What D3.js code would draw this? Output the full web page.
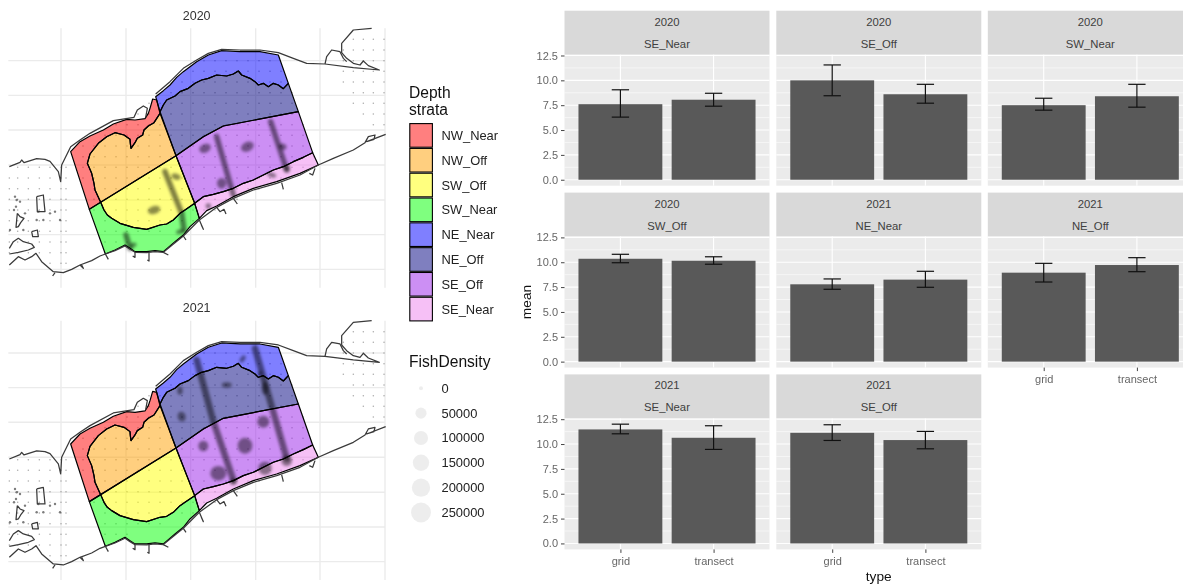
<!DOCTYPE html>
<html><head><meta charset="utf-8">
<script src="https://cdnjs.cloudflare.com/ajax/libs/d3/7.8.5/d3.min.js"></script>
<style>html,body{margin:0;padding:0;background:#fff;overflow:hidden}svg{display:block;filter:blur(0.4px)}text{font-family:"Liberation Sans",Arial,sans-serif}</style>
</head><body><svg id="c" width="1183" height="585"></svg>
<script>
// ---------- bar chart data ----------
const facetYears  = ["2020","2020","2020","2020","2021","2021","2021","2021"];
const facetStrata = ["SE_Near","SE_Off","SW_Near","SW_Off","NE_Near","NE_Off","SE_Near","SE_Off"];
const typeLevels  = ["grid","transect"];
const gridMean     = [7.6,10.0,7.5,10.35,7.78,8.95,11.47,11.13];
const gridLow      = [6.3,8.45,7.0,9.95,7.28,8.01,11.03,10.36];
const gridHigh     = [9.05,11.55,8.2,10.8,8.32,9.89,12.0,11.94];
const transectMean = [8.05,8.6,8.4,10.15,8.25,9.72,10.63,10.4];
const transectLow  = [7.4,7.7,7.3,9.8,7.48,9.05,9.46,9.52];
const transectHigh = [8.7,9.6,9.6,10.55,9.09,10.46,11.84,11.27];
const yTicks = [0,2.5,5,7.5,10,12.5];
const yMinor = [1.25,3.75,6.25,8.75,11.25];

// ---------- legend data ----------
const strataNames  = ["NW_Near","NW_Off","SW_Off","SW_Near","NE_Near","NE_Off","SE_Off","SE_Near"];
const strataColors = ["#ff0000","#ffa000","#ffff00","#00ff00","#0000ff","#000080","#9a20ea","#ee82ee"];
const densityBreaks = [0,50000,100000,150000,200000,250000];

// ---------- map data (map units) ----------
const mapGridX = [183,378,572,767,960,1155];
const mapGridY = [182,286,390,495,600,704,808];
const stationCols = [28,53,85,118,150,183,198,216,249,282,315,348,381,414,447,480,513,546,579,612,645,678,711,744,777,810,843,876,909,942,1000,1030,1060,1090,1120,1152];
const stationRows = [88,118,150,182,214,246,278,310,342,374,406,438,470,502,534,566,598,630,662,694,726,758,790];
const westZone = [[28,510],[90,488],[150,490],[205,480],[205,815],[170,815],[120,780],[28,790]];
const eastZone = [[1000,205],[1060,92],[1155,88],[1155,395],[1105,395],[1050,300]];
const boxZone  = [[212,455],[467,290],[625,165],[835,165],[955,495],[598,655],[316,762]];

const nwInner = [[480,340],[462,368],[445,378],[432,390],[428,405],[412,415],[405,428],[393,445],[391,430],[390,418],[372,405],[345,398],[320,410],[295,430],[270,462],[262,490],[275,520],[282,550],[285,570],[302,607]];
const swCurve = [[302,607],[312,630],[322,645],[335,655],[360,670],[400,682],[440,688],[480,675],[500,672],[520,660],[540,640],[555,630],[584,610]];
const neCurve = [[480,335],[490,315],[500,300],[525,288],[540,275],[565,265],[585,250],[605,240],[625,235],[650,225],[680,228],[700,222],[715,213],[725,225],[750,235],[765,245],[775,255],[790,250],[805,260],[820,250],[835,255],[850,266],[865,250]];
const seCurve = [[584,610],[610,590],[640,583],[670,575],[700,565],[730,550],[760,540],[790,525],[820,510],[850,500],[880,485],[910,472],[938,458]];
const offLine = [[528,467],[610,410],[670,378],[895,335]];
const nwNearOuter = [[212,455],[240,425],[270,408],[310,390],[340,372],[380,358],[405,360],[435,356],[445,340],[450,325],[458,297],[470,300],[480,340]];
const swNearOuter = [[598,655],[570,680],[550,705],[525,725],[505,742],[490,755],[465,752],[440,755],[405,755],[390,745],[375,735],[345,750],[316,762],[268,628]];
const neNearOuter = [[467,290],[490,272],[510,255],[530,232],[550,215],[590,185],[625,165],[665,152],[720,155],[780,155],[835,165]];
const seNearOuter = [[938,458],[955,495],[900,520],[830,545],[760,565],[700,590],[650,618],[620,632],[598,655]];
const strataShapes = [
  nwNearOuter.concat(nwInner.slice(1),[[268,628]]),
  nwInner.concat([[528,467]]),
  swCurve.concat([[528,467]]),
  [[268,628]].concat(swCurve,swNearOuter),
  neNearOuter.concat([[865,250]],neCurve.slice().reverse()),
  neCurve.concat([[895,335]],offLine.slice().reverse()),
  offLine.concat([[938,458]],seCurve.slice().reverse()),
  seCurve.concat(seNearOuter)
];
const coastLines = [
  [[28,500],[60,487],[65,480],[72,488],[110,476],[135,478],[150,484],[175,515],[182,545],[185,495],[212,440],[240,420],[270,400],[340,362],[402,352],[412,330],[430,318],[442,325],[437,352]],
  [[467,282],[510,245],[550,205],[590,180],[625,160],[665,148],[720,150],[780,150],[835,158],[880,175],[920,190],[975,192],[1060,203],[1138,210],[1105,197],[1090,183],[1080,195],[1060,190],[1040,175],[1025,158],[1025,130],[1060,90],[1115,85]],
  [[975,192],[980,170],[995,150],[1020,155],[1030,175],[1040,185]],
  [[28,795],[55,770],[75,780],[95,770],[108,760],[125,785],[160,815],[190,818],[215,808],[240,795],[275,782],[300,768],[316,762],[345,752],[375,738],[390,748],[405,757],[440,758],[465,755],[490,757],[525,728],[550,708],[598,660],[650,622],[700,595],[760,570],[830,550],[900,525],[955,495],[1000,475],[1060,450],[1095,428],[1105,410],[1125,405],[1122,418],[1100,425],[1157,403]],
  [[28,745],[40,725],[55,715],[70,725],[95,732],[103,742],[85,750],[55,757],[28,762]],
  [[110,590],[130,585],[135,635],[112,635],[110,590]],
  [[52,640],[60,650],[72,655],[62,668],[55,680],[48,682],[50,660],[52,640]],
  [[95,695],[112,690],[115,710],[98,710],[95,695]],
  [[240,795],[250,805],[245,795]],[[165,818],[158,828]],[[405,757],[405,772],[398,768]],[[447,758],[447,783],[442,780]],[[490,757],[505,765]],[[550,708],[558,720]],[[598,660],[610,688],[604,675]],[[650,622],[660,635],[672,628],[678,642]],[[700,595],[712,612]],[[845,548],[850,568]],[[945,505],[938,525],[928,520]],[[316,762],[325,778]]
];
const specks = [[45,590],[60,605],[42,630],[48,620],[110,660],[130,660],[150,640],[180,660],[30,690],[70,690],[50,600],[115,635],[165,635],[75,640]];
const tracks2020 = [
  [[495,515],[545,640],[552,690]],
  [[650,410],[700,585]],
  [[812,365],[860,510]],
  [[378,705],[390,745]]
];
const blobs2020 = [[615,445,18,13,-25],[742,440,20,14,-25],[665,550,14,16,0],[462,630,19,12,-15],[528,530,14,9,20],[400,735,10,7,-20],[540,695,12,7,-15],[815,525,14,7,15],[625,618,8,8,0],[860,505,10,10,0],[848,440,12,9,20]];
const tracks2021 = [
  [[590,203],[640,388],[700,563]],
  [[765,168],[860,498]]
];
const blobs2021 = [[540,295,8,12,0],[545,373,12,15,-15],[680,278,15,8,0],[728,200,7,12,35],[795,288,10,20,0],[790,388,18,18,0],[735,460,22,24,0],[610,461,15,16,0],[655,543,24,22,0],[795,528,20,20,0],[860,505,16,16,0],[700,568,10,10,0],[780,243,7,7,0]];

// ---------- drawing ----------
const svg = d3.select("#c");
const defs = svg.append("defs");
defs.append("filter").attr("id","soft").attr("x","-30%").attr("y","-30%").attr("width","160%").attr("height","160%")
  .append("feGaussianBlur").attr("stdDeviation",1.5);

const mapX = d3.scaleLinear().domain([0,1200]).range([0,400]);
const mapYs = [d3.scaleLinear().domain([0,885]).range([0,295]),
               d3.scaleLinear().domain([0,885]).range([292.3,587.3])];
const mapYears = ["2020","2021"];
const titleY = [16,308];
const mapTracks = [tracks2020,tracks2021];
const mapBlobs = [blobs2020,blobs2021];
const trackW = [5.5,6.5];

mapYears.forEach((yr,i)=>{
  const my = mapYs[i];
  const g = svg.append("g");
  const line = d3.line().x(d=>mapX(d[0])).y(d=>my(d[1]));
  g.selectAll(".gx").data(mapGridX).join("line")
    .attr("x1",d=>mapX(d)).attr("x2",d=>mapX(d)).attr("y1",my(85)).attr("y2",my(863))
    .attr("stroke","#ebebeb").attr("stroke-width",1.4);
  g.selectAll(".gy").data(mapGridY).join("line")
    .attr("y1",d=>my(d)).attr("y2",d=>my(d)).attr("x1",mapX(25)).attr("x2",mapX(1155))
    .attr("stroke","#ebebeb").attr("stroke-width",1.4);
  // survey stations
  const stations = [];
  stationCols.forEach(cx=>stationRows.forEach(cy=>{
    if([westZone,eastZone,boxZone].some(z=>d3.polygonContains(z,[cx,cy]))) stations.push([cx,cy]);
  }));
  g.selectAll(".st").data(stations).join("circle")
    .attr("cx",d=>mapX(d[0])).attr("cy",d=>my(d[1])).attr("r",0.75).attr("fill","#555").attr("fill-opacity",0.5);
  g.selectAll(".sp").data(specks).join("circle")
    .attr("cx",d=>mapX(d[0])).attr("cy",d=>my(d[1])).attr("r",1.2).attr("fill","#444").attr("fill-opacity",0.7);
  // strata fills
  g.selectAll(".s").data(strataShapes).join("path")
    .attr("d",d=>line(d)+"Z").attr("fill",(d,k)=>strataColors[k]).attr("fill-opacity",0.5).attr("stroke","none");
  // density
  const dens = g.append("g").attr("filter","url(#soft)");
  dens.selectAll("path").data(mapTracks[i]).join("path")
    .attr("d",line).attr("fill","none").attr("stroke","#000").attr("stroke-opacity",0.5)
    .attr("stroke-width",trackW[i]).attr("stroke-linecap","round");
  dens.selectAll("ellipse").data(mapBlobs[i]).join("ellipse")
    .attr("transform",d=>`translate(${mapX(d[0])},${my(d[1])}) rotate(${d[4]})`)
    .attr("rx",d=>mapX(d[2])).attr("ry",d=>mapX(d[3])).attr("fill","#000").attr("fill-opacity",0.45);
  // strata outlines
  g.selectAll(".so").data(strataShapes).join("path")
    .attr("d",d=>line(d)+"Z").attr("fill","none")
    .attr("stroke","#000").attr("stroke-width",1.2).attr("stroke-linejoin","round");
  // coast
  g.selectAll(".c").data(coastLines).join("path")
    .attr("d",line).attr("fill","none").attr("stroke","#3a3a3a").attr("stroke-width",1.25)
    .attr("stroke-linejoin","round");
  g.append("text").attr("x",mapX(590)).attr("y",titleY[i]).attr("dy","0.35em").attr("text-anchor","middle")
    .attr("font-size",12.5).attr("fill","#333").text(yr);
});

// legend
const lg = svg.append("g");
lg.append("text").attr("x",409).attr("y",97.5).attr("font-size",15.6).attr("fill","#111").text("Depth");
lg.append("text").attr("x",409).attr("y",114.5).attr("font-size",15.6).attr("fill","#111").text("strata");
const keyY = d3.scaleBand().domain(strataNames).range([123,321.5]);
lg.selectAll(".k").data(strataNames).join("rect")
  .attr("x",409.8).attr("y",d=>keyY(d)+0.6).attr("width",22.6).attr("height",keyY.bandwidth()-1.2)
  .attr("fill",(d,i)=>strataColors[i]).attr("fill-opacity",0.5).attr("stroke","#000").attr("stroke-width",1.1);
lg.selectAll(".kt").data(strataNames).join("text")
  .attr("x",441.5).attr("y",d=>keyY(d)+keyY.bandwidth()/2).attr("dy","0.35em")
  .attr("font-size",12.9).attr("fill","#222").text(d=>d);
lg.append("text").attr("x",409).attr("y",367).attr("font-size",15.6).attr("fill","#111").text("FishDensity");
const rScale = d3.scaleSqrt().domain([0,250000]).range([2,10]);
const densY = d3.scaleLinear().domain([0,250000]).range([388.3,512.5]);
lg.selectAll(".d").data(densityBreaks).join("circle")
  .attr("cx",421).attr("cy",d=>densY(d)).attr("r",d=>rScale(d)).attr("fill","#000").attr("fill-opacity",0.07);
lg.selectAll(".dt").data(densityBreaks).join("text")
  .attr("x",441.5).attr("y",d=>densY(d)).attr("dy","0.35em").attr("font-size",12.9).attr("fill","#222").text(d=>d);

// bar facets
const colX = [564.5,776.3,987.8];
const colW = 205;
const stripTop = [10.7,192.6,374.4];
const stripH = 44;
const panelH = 131;
const axisXPanels = [5,6,7];
facetYears.forEach((yr,i)=>{
  const col = i%3, row = Math.floor(i/3);
  const w = colW;
  const g = svg.append("g").attr("transform",`translate(${colX[col]},${stripTop[row]})`);
  g.append("rect").attr("width",w).attr("height",stripH).attr("fill","#d9d9d9");
  g.append("text").attr("x",w/2).attr("y",11).attr("dy","0.35em").attr("text-anchor","middle").attr("font-size",11.3).attr("fill","#404040").text(yr);
  g.append("text").attr("x",w/2).attr("y",33).attr("dy","0.35em").attr("text-anchor","middle").attr("font-size",11.3).attr("fill","#404040").text(facetStrata[i]);
  const p = g.append("g").attr("transform",`translate(0,${stripH})`);
  p.append("rect").attr("width",w).attr("height",panelH).attr("fill","#ebebeb");
  const x = d3.scalePoint().domain(typeLevels).range([0,w]).padding(0.6);
  const bw = x.step()*0.9;
  const y = d3.scaleLinear().domain([-0.6,12.58]).range([panelH,0]);
  p.selectAll(".mi").data(yMinor).join("line").attr("x1",0).attr("x2",w).attr("y1",d=>y(d)).attr("y2",d=>y(d)).attr("stroke","#fff").attr("stroke-width",0.55);
  p.selectAll(".ma").data(yTicks).join("line").attr("x1",0).attr("x2",w).attr("y1",d=>y(d)).attr("y2",d=>y(d)).attr("stroke","#fff").attr("stroke-width",1.1);
  p.selectAll(".mv").data(typeLevels).join("line").attr("x1",d=>x(d)).attr("x2",d=>x(d)).attr("y1",0).attr("y2",panelH).attr("stroke","#fff").attr("stroke-width",1.1);
  const rows = [{t:"grid",m:gridMean[i],lo:gridLow[i],hi:gridHigh[i]},{t:"transect",m:transectMean[i],lo:transectLow[i],hi:transectHigh[i]}];
  p.selectAll(".b").data(rows).join("rect").attr("x",d=>x(d.t)-bw/2).attr("width",bw).attr("y",d=>y(d.m)).attr("height",d=>y(0)-y(d.m)).attr("fill","#595959");
  const capW = x.step()*0.2/2*0.93;
  const eg = p.selectAll(".e").data(rows).join("g").attr("stroke","#111").attr("stroke-width",1.2).attr("fill","none");
  eg.append("line").attr("x1",d=>x(d.t)).attr("x2",d=>x(d.t)).attr("y1",d=>y(d.lo)).attr("y2",d=>y(d.hi));
  eg.append("line").attr("x1",d=>x(d.t)-capW*1.0).attr("x2",d=>x(d.t)+capW).attr("y1",d=>y(d.lo)).attr("y2",d=>y(d.lo));
  eg.append("line").attr("x1",d=>x(d.t)-capW).attr("x2",d=>x(d.t)+capW).attr("y1",d=>y(d.hi)).attr("y2",d=>y(d.hi));
  if(col===0){
    const ya = p.append("g").call(d3.axisLeft(y).tickValues(yTicks).tickFormat(d3.format(".1f")).tickSize(3.5).tickPadding(3));
    ya.select(".domain").remove();
    ya.selectAll("line").attr("stroke","#444");
    ya.selectAll("text").attr("font-size",11).attr("fill","#666").style("font-family",'"Liberation Sans",Arial,sans-serif');
  }
  if(axisXPanels.includes(i)){
    const xa = p.append("g").attr("transform",`translate(0,${panelH})`).call(d3.axisBottom(x).tickSize(3.5).tickPadding(4));
    xa.select(".domain").remove();
    xa.selectAll("line").attr("stroke","#444");
    xa.selectAll("text").attr("font-size",11).attr("fill","#666").style("font-family",'"Liberation Sans",Arial,sans-serif');
  }
});
svg.append("text").attr("transform","translate(526,302) rotate(-90)").attr("dy","0.35em").attr("text-anchor","middle").attr("font-size",13.7).attr("fill","#111").text("mean");
svg.append("text").attr("x",878.7).attr("y",576).attr("dy","0.35em").attr("text-anchor","middle").attr("font-size",13.7).attr("fill","#111").text("type");
</script></body></html>
